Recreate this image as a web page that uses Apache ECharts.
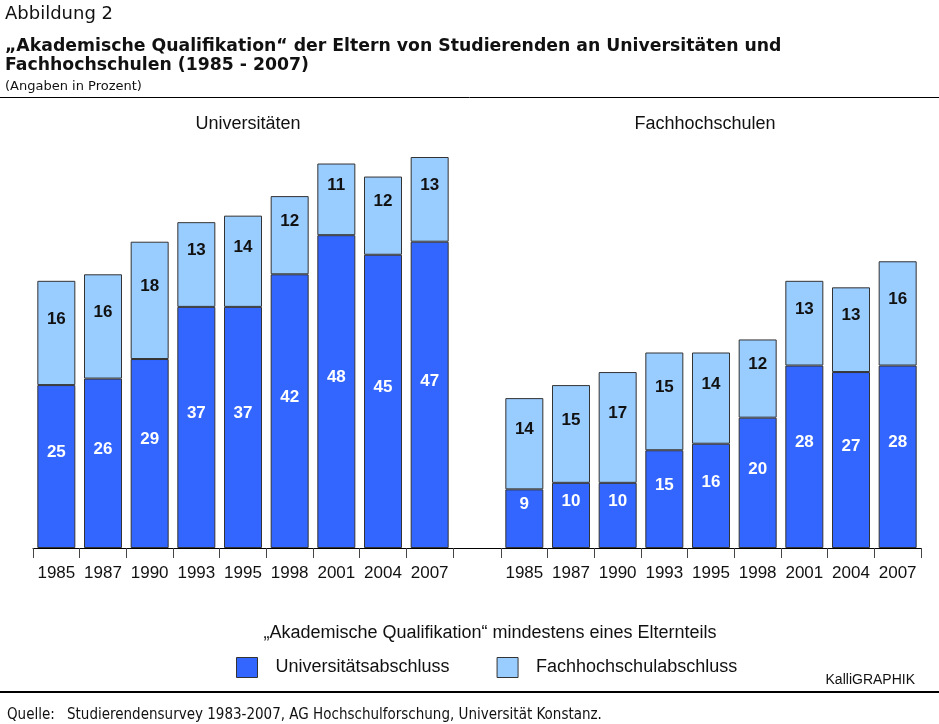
<!DOCTYPE html>
<html lang="de">
  <head>
    <meta charset="UTF-8" />
    <title>Akademische Qualifikation der Eltern</title>
    <script src="https://cdn.jsdelivr.net/npm/echarts@6/dist/echarts.min.js"></script>
    <style>
      html, body { margin: 0; padding: 0; background: #fff; }
      #chart { width: 939px; height: 724px; }
    </style>
  </head>
  <body>
    <div id="chart"></div>
    <script>
      // data
      const years = ["1985", "1987", "1990", "1993", "1995", "1998", "2001", "2004", "2007"];
      const uniUniAbschluss = [25, 26, 29, 37, 37, 42, 48, 45, 47];
      const uniFhAbschluss = [16, 16, 18, 13, 14, 12, 11, 12, 13];
      const fhUniAbschluss = [9, 10, 10, 15, 16, 20, 28, 27, 28];
      const fhFhAbschluss = [14, 15, 17, 15, 14, 12, 13, 13, 16];

      const DARK = "#3366ff";
      const LIGHT = "#99ccff";
      const sans = "Liberation Sans, Arial, sans-serif";
      const dv = "DejaVu Sans, sans-serif";
      const cond = "DejaVu Sans Condensed, DejaVu Sans, sans-serif";

      const chart = echarts.init(document.getElementById("chart"));

      function xAxis(gridIndex) {
        return {
          type: "category",
          gridIndex: gridIndex,
          data: years,
          axisLine: { lineStyle: { color: "#000", width: 1 } },
          axisTick: { show: true, interval: 0, length: 10, lineStyle: { color: "#444" } },
          axisLabel: { interval: 0, fontFamily: sans, fontSize: 17, color: "#111", margin: 17 }
        };
      }
      function yAxis(gridIndex) {
        return { type: "value", gridIndex: gridIndex, min: 0, max: 60, show: false };
      }
      function bars(name, data, idx, color, textColor) {
        return {
          name: name,
          type: "bar",
          xAxisIndex: idx,
          yAxisIndex: idx,
          stack: "s" + idx,
          data: data,
          barWidth: 38,
          itemStyle: { color: color, borderColor: "#333", borderWidth: 1 },
          label: {
            show: true,
            position: "inside",
            offset: [0, -14],
            fontFamily: sans,
            fontWeight: "bold",
            fontSize: 17,
            color: textColor
          }
        };
      }

      chart.setOption({
        animation: false,
        title: [
          { text: "Universitäten", left: 243, top: 110, textAlign: "center",
            textStyle: { fontFamily: sans, fontSize: 18, fontWeight: "normal", color: "#111" } },
          { text: "Fachhochschulen", left: 700, top: 110, textAlign: "center",
            textStyle: { fontFamily: sans, fontSize: 18, fontWeight: "normal", color: "#111" } }
        ],
        grid: [
          { left: 33, width: 420, top: 157, bottom: 176 },
          { left: 501, width: 420, top: 157, bottom: 176 }
        ],
        xAxis: [xAxis(0), xAxis(1)],
        yAxis: [yAxis(0), yAxis(1)],
        legend: {
          left: 236,
          top: 657,
          padding: 0,
          itemWidth: 21,
          itemHeight: 20,
          itemGap: 47,
          icon: "rect",
          itemStyle: { borderColor: "#333", borderWidth: 1 },
          textStyle: { fontFamily: sans, fontSize: 18, color: "#111", padding: [0, 0, 0, 13] },
          data: ["Universitätsabschluss", "Fachhochschulabschluss"],
          selectedMode: false
        },
        series: [
          bars("Universitätsabschluss", uniUniAbschluss, 0, DARK, "#fff"),
          bars("Fachhochschulabschluss", uniFhAbschluss, 0, LIGHT, "#111"),
          bars("Universitätsabschluss", fhUniAbschluss, 1, DARK, "#fff"),
          bars("Fachhochschulabschluss", fhFhAbschluss, 1, LIGHT, "#111")
        ],
        graphic: [
          { type: "text", x: 5, y: 5,
            style: { text: "Abbildung 2", font: "18px " + dv, fill: "#111" } },
          { type: "text", x: 5, y: 38,
            style: { text: "„Akademische Qualifikation“ der Eltern von Studierenden an Universitäten und",
              font: "bold 17.3px " + dv, fill: "#111" } },
          { type: "text", x: 5, y: 57,
            style: { text: "Fachhochschulen (1985 - 2007)", font: "bold 17.3px " + dv, fill: "#111" } },
          { type: "text", x: 5, y: 80,
            style: { text: "(Angaben in Prozent)", font: "13px " + dv, fill: "#111" } },
          { type: "line", shape: { x1: 0, y1: 97.5, x2: 939, y2: 97.5 },
            style: { stroke: "#000", lineWidth: 1 } },
          // connect the two baselines
          { type: "line", shape: { x1: 453, y1: 548.5, x2: 501, y2: 548.5 },
            style: { stroke: "#000", lineWidth: 1 } },
          { type: "text", x: 490, y: 624,
            style: { text: "„Akademische Qualifikation“ mindestens eines Elternteils",
              font: "18px " + sans, fill: "#111", align: "center" } },
          { type: "text", x: 915, y: 673,
            style: { text: "KalliGRAPHIK", font: "14px " + sans, fill: "#111", align: "right" } },
          { type: "line", shape: { x1: 0, y1: 692, x2: 939, y2: 692 },
            style: { stroke: "#000", lineWidth: 2 } },
          { type: "text", x: 7, y: 708,
            style: { text: "Quelle:", font: "15px " + cond, fill: "#111" } },
          { type: "text", x: 67, y: 708,
            style: { text: "Studierendensurvey 1983-2007, AG Hochschulforschung, Universität Konstanz.",
              font: "15px " + cond, fill: "#111" } }
        ]
      });
    </script>
  </body>
</html>
